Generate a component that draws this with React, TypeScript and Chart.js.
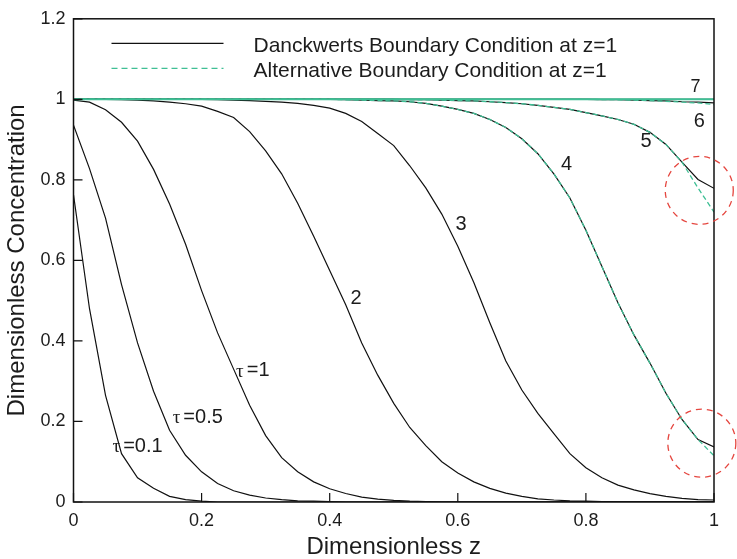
import { useEffect, useRef } from "react";
import { Chart, registerables } from "chart.js";

Chart.register(...registerables);

// Dimensionless z grid
const Z = [0, 0.025, 0.05, 0.075, 0.1, 0.125, 0.15, 0.175, 0.2, 0.225, 0.25, 0.275, 0.3, 0.325, 0.35, 0.375, 0.4, 0.425, 0.45, 0.475, 0.5, 0.525, 0.55, 0.575, 0.6, 0.625, 0.65, 0.675, 0.7, 0.725, 0.75, 0.775, 0.8, 0.825, 0.85, 0.875, 0.9, 0.925, 0.95, 0.975, 1];

// Danckwerts boundary condition curves
const TAU_0_1 = [0.763, 0.48, 0.265, 0.12, 0.06, 0.034, 0.014, 0.006, 0.002, 0, 0, 0, 0, 0, 0, 0, 0, 0, 0, 0, 0, 0, 0, 0, 0, 0, 0, 0, 0, 0, 0, 0, 0, 0, 0, 0, 0, 0, 0, 0, 0];
const TAU_0_5 = [0.936, 0.828, 0.705, 0.54, 0.395, 0.275, 0.178, 0.116, 0.075, 0.046, 0.028, 0.017, 0.01, 0.006, 0.003, 0.002, 0.001, 0, 0, 0, 0, 0, 0, 0, 0, 0, 0, 0, 0, 0, 0, 0, 0, 0, 0, 0, 0, 0, 0, 0, 0];
const TAU_1 = [0.998, 0.993, 0.974, 0.943, 0.896, 0.826, 0.74, 0.64, 0.525, 0.42, 0.33, 0.24, 0.165, 0.11, 0.075, 0.05, 0.033, 0.021, 0.012, 0.007, 0.004, 0.002, 0.001, 0, 0, 0, 0, 0, 0, 0, 0, 0, 0, 0, 0, 0, 0, 0, 0, 0, 0];
const TAU_2 = [1, 1, 1, 0.999, 0.998, 0.996, 0.993, 0.989, 0.983, 0.97, 0.955, 0.92, 0.872, 0.815, 0.742, 0.66, 0.575, 0.49, 0.395, 0.315, 0.245, 0.185, 0.14, 0.1, 0.072, 0.05, 0.034, 0.022, 0.014, 0.008, 0.005, 0.003, 0.002, 0.001, 0, 0, 0, 0, 0, 0, 0];
const TAU_3 = [1, 1, 1, 1, 1, 1, 1, 1, 1, 0.999, 0.998, 0.997, 0.995, 0.993, 0.99, 0.985, 0.978, 0.965, 0.945, 0.915, 0.885, 0.835, 0.78, 0.715, 0.635, 0.545, 0.445, 0.35, 0.278, 0.22, 0.17, 0.12, 0.085, 0.06, 0.042, 0.03, 0.021, 0.014, 0.009, 0.006, 0.005];
const TAU_4 = [1, 1, 1, 1, 1, 1, 1, 1, 1, 1, 1, 1, 1, 1, 1, 1, 1, 0.999, 0.998, 0.997, 0.996, 0.994, 0.99, 0.983, 0.975, 0.965, 0.95, 0.93, 0.902, 0.865, 0.815, 0.755, 0.675, 0.585, 0.495, 0.415, 0.345, 0.27, 0.205, 0.155, 0.137];
const TAU_5 = [1, 1, 1, 1, 1, 1, 1, 1, 1, 1, 1, 1, 1, 1, 1, 1, 1, 1, 1, 1, 1, 0.999, 0.999, 0.998, 0.997, 0.996, 0.994, 0.992, 0.989, 0.985, 0.98, 0.975, 0.967, 0.959, 0.95, 0.938, 0.918, 0.888, 0.844, 0.801, 0.779];
const TAU_6 = [1, 1, 1, 1, 1, 1, 1, 1, 1, 1, 1, 1, 1, 1, 1, 1, 1, 1, 1, 1, 1, 1, 1, 1, 1, 1, 1, 1, 1, 1, 1, 1, 1, 0.9995, 0.999, 0.998, 0.997, 0.996, 0.994, 0.993, 0.991];
const TAU_7 = [1, 1, 1, 1, 1, 1, 1, 1, 1, 1, 1, 1, 1, 1, 1, 1, 1, 1, 1, 1, 1, 1, 1, 1, 1, 1, 1, 1, 1, 1, 1, 1, 1, 1, 1, 1, 1, 1, 1, 1, 1];

// Alternative boundary condition curves (where distinguishable)
const ALT_4 = [1, 1, 1, 1, 1, 1, 1, 1, 1, 1, 1, 1, 1, 1, 1, 1, 1, 0.999, 0.998, 0.997, 0.996, 0.994, 0.99, 0.983, 0.975, 0.965, 0.95, 0.93, 0.902, 0.865, 0.815, 0.755, 0.675, 0.585, 0.495, 0.415, 0.345, 0.27, 0.205, 0.155, 0.115];
const ALT_5 = [1, 1, 1, 1, 1, 1, 1, 1, 1, 1, 1, 1, 1, 1, 1, 1, 1, 1, 1, 1, 1, 0.999, 0.999, 0.998, 0.997, 0.996, 0.994, 0.992, 0.989, 0.985, 0.98, 0.975, 0.967, 0.959, 0.95, 0.938, 0.918, 0.888, 0.844, 0.78, 0.72];
const ALT_6 = [1, 1, 1, 1, 1, 1, 1, 1, 1, 1, 1, 1, 1, 1, 1, 1, 1, 1, 1, 1, 1, 1, 1, 1, 1, 1, 1, 1, 1, 1, 1, 1, 1, 0.9995, 0.999, 0.998, 0.997, 0.995, 0.993, 0.991, 0.987];
const ALT_7 = [1, 1, 1, 1, 1, 1, 1, 1, 1, 1, 1, 1, 1, 1, 1, 1, 1, 1, 1, 1, 1, 1, 1, 1, 1, 1, 1, 1, 1, 1, 1, 1, 1, 1, 1, 1, 1, 1, 1, 1, 1];

const DANCKWERTS = [TAU_0_1, TAU_0_5, TAU_1, TAU_2, TAU_3, TAU_4, TAU_5, TAU_6, TAU_7];
const ALTERNATIVE = [ALT_4, ALT_5, ALT_6, ALT_7];

const X_TICKS = [0, 0.2, 0.4, 0.6, 0.8, 1];
const Y_TICKS = [0, 0.2, 0.4, 0.6, 0.8, 1, 1.2];

const LEGEND_LABELS = ["Danckwerts Boundary Condition at z=1", "Alternative Boundary Condition at z=1"];
const X_TITLE = "Dimensionless z";
const Y_TITLE = "Dimensionless Concentration";

// curve labels, anchored in data coordinates
const CURVE_LABELS = [
  { sym: "τ", text: "=0.1", z: 0.1, c: 0.138 },
  { sym: "τ", text: "=0.5", z: 0.194, c: 0.211 },
  { sym: "τ", text: "=1", z: 0.28, c: 0.326 },
  { sym: "", text: "2", z: 0.441, c: 0.505 },
  { sym: "", text: "3", z: 0.605, c: 0.69 },
  { sym: "", text: "4", z: 0.77, c: 0.838 },
  { sym: "", text: "5", z: 0.894, c: 0.895 },
  { sym: "", text: "6", z: 0.977, c: 0.946 },
  { sym: "", text: "7", z: 0.971, c: 1.03 },
];

// highlighted discrepancy regions
const HIGHLIGHTS = [
  { z: 0.977, c: 0.774 },
  { z: 0.981, c: 0.146 },
];

const FONT = "'Liberation Sans', Arial, sans-serif";
const GREEN = "#3fbf95";
const BLACK = "#111111";
const TEXT = "#1c1c1c";

export default function App() {
  const ref = useRef<HTMLCanvasElement | null>(null);

  useEffect(() => {
    document.body.style.margin = "0";
    const canvas = ref.current;
    if (!canvas) return;

    const toPts = (vals: number[]) => Z.map((z, i) => ({ x: z, y: vals[i] }));

    const datasets: any[] = [];
    ALTERNATIVE.forEach((vals, i) => {
      const solid = i === ALTERNATIVE.length - 1;
      datasets.push({
        label: "alt" + i,
        data: toPts(vals),
        borderColor: GREEN,
        borderWidth: solid ? 2 : 1.3,
        borderDash: solid ? [] : [5, 3],
        pointRadius: 0,
        tension: 0,
        fill: false,
        order: 0,
      });
    });
    DANCKWERTS.forEach((vals, i) => {
      datasets.push({
        label: "dk" + i,
        data: toPts(vals),
        borderColor: BLACK,
        borderWidth: 1.2,
        pointRadius: 0,
        tension: 0,
        fill: false,
        order: 1,
      });
    });

    const decor = {
      id: "decor",
      afterDraw(chart: any) {
        const ctx = chart.ctx as CanvasRenderingContext2D;
        const a = chart.chartArea;
        const xs = chart.scales.x;
        const ys = chart.scales.y;
        ctx.save();
        // frame
        ctx.strokeStyle = BLACK;
        ctx.lineWidth = 1.5;
        ctx.setLineDash([]);
        ctx.strokeRect(a.left, a.top, a.right - a.left, a.bottom - a.top);
        // inward ticks
        ctx.lineWidth = 1.2;
        ctx.beginPath();
        X_TICKS.forEach((v) => {
          const x = xs.getPixelForValue(v);
          ctx.moveTo(x, a.bottom);
          ctx.lineTo(x, a.bottom - 9);
        });
        Y_TICKS.forEach((v) => {
          const y = ys.getPixelForValue(v);
          ctx.moveTo(a.left, y);
          ctx.lineTo(a.left + 9, y);
        });
        ctx.stroke();

        // legend
        const lx0 = a.left + 38;
        const lx1 = a.left + 150;
        const rows = [a.top + 24.5, a.top + 49.5];
        ctx.lineWidth = 1.3;
        ctx.strokeStyle = BLACK;
        ctx.beginPath();
        ctx.moveTo(lx0, rows[0]);
        ctx.lineTo(lx1, rows[0]);
        ctx.stroke();
        ctx.strokeStyle = GREEN;
        ctx.setLineDash([6, 4]);
        ctx.beginPath();
        ctx.moveTo(lx0, rows[1]);
        ctx.lineTo(lx1, rows[1]);
        ctx.stroke();
        ctx.setLineDash([]);
        ctx.fillStyle = TEXT;
        ctx.font = "21px " + FONT;
        ctx.textAlign = "left";
        ctx.textBaseline = "alphabetic";
        ctx.fillText(LEGEND_LABELS[0], a.left + 180, rows[0] + 9);
        ctx.fillText(LEGEND_LABELS[1], a.left + 180, rows[1] + 8.5);

        // curve labels
        CURVE_LABELS.forEach((l) => {
          const x = xs.getPixelForValue(l.z);
          const y = ys.getPixelForValue(l.c);
          ctx.textBaseline = "middle";
          const size = l.text === "7" ? 18 : 20;
          ctx.font = size + "px " + FONT;
          const tw = ctx.measureText(l.text).width;
          if (l.sym) {
            ctx.font = "19px 'Liberation Serif', 'DejaVu Serif', serif";
            const sw = ctx.measureText(l.sym).width;
            const gap = 3;
            const total = sw + gap + tw;
            const x0 = x - total / 2;
            ctx.textAlign = "left";
            ctx.fillText(l.sym, x0, y + 1);
            ctx.font = size + "px " + FONT;
            ctx.fillText(l.text, x0 + sw + gap, y);
          } else {
            ctx.textAlign = "center";
            ctx.fillText(l.text, x, y);
          }
        });

        // highlight circles
        ctx.strokeStyle = "#e5463f";
        ctx.lineWidth = 1.3;
        ctx.setLineDash([6, 5]);
        HIGHLIGHTS.forEach((h) => {
          const x = xs.getPixelForValue(h.z);
          const y = ys.getPixelForValue(h.c);
          ctx.beginPath();
          ctx.arc(x, y, 34, 0, Math.PI * 2);
          ctx.stroke();
        });
        ctx.restore();
      },
    };

    const fmt = (v: any) => String(Math.round(Number(v) * 10) / 10);

    const chart = new Chart(canvas, {
      type: "line",
      data: { datasets },
      options: {
        animation: false,
        responsive: false,
        devicePixelRatio: 1,
        layout: { padding: { left: 0, right: 23, top: 15, bottom: 0 } },
        plugins: { legend: { display: false }, tooltip: { enabled: false } },
        scales: {
          x: {
            type: "linear",
            min: 0,
            max: 1,
            afterFit: (s: any) => {
              s.height = 57;
            },
            afterBuildTicks: (s: any) => {
              s.ticks = X_TICKS.map((v) => ({ value: v }));
            },
            ticks: { callback: fmt, font: { size: 18, family: FONT }, color: TEXT, padding: 8, maxRotation: 0 },
            grid: { display: false, drawTicks: false },
            border: { display: false },
            title: { display: true, text: X_TITLE, font: { size: 24, family: FONT, lineHeight: 1 }, color: TEXT, padding: { top: 0, bottom: 0 } },
          },
          y: {
            type: "linear",
            min: 0,
            max: 1.2,
            afterFit: (s: any) => {
              s.width = 73.5;
            },
            afterBuildTicks: (s: any) => {
              s.ticks = Y_TICKS.map((v) => ({ value: v }));
            },
            ticks: { callback: fmt, font: { size: 18, family: FONT }, color: TEXT, padding: 8 },
            grid: { display: false, drawTicks: false },
            border: { display: false },
            title: { display: true, text: Y_TITLE, font: { size: 24, family: FONT, lineHeight: 1 }, color: TEXT, padding: { top: 5, bottom: 0 } },
          },
        },
      },
      plugins: [decor],
    } as any);

    return () => chart.destroy();
  }, []);

  return (
    <div style={{ width: 737, height: 559 }}>
      <canvas ref={ref} width={737} height={559} style={{ display: "block" }} />
    </div>
  );
}
